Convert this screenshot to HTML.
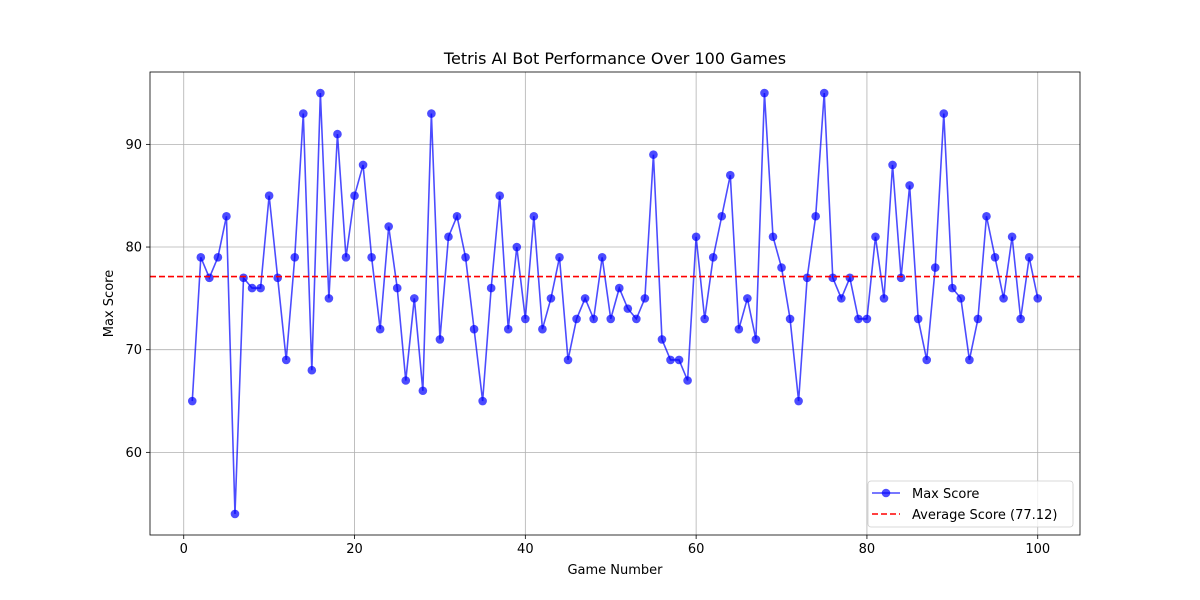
<!DOCTYPE html>
<html><head><meta charset="utf-8"><style>
html,body{margin:0;padding:0;background:#fff;}
svg{display:block;font-family:"DejaVu Sans","Liberation Sans",sans-serif;}
</style></head><body>
<svg id="c" width="1200" height="600" xmlns="http://www.w3.org/2000/svg"></svg>
<script>
const games = Array.from({length:100},(_,i)=>i+1);
const scores = [65,79,77,79,83,54,77,76,76,85,
77,69,79,93,68,95,75,91,79,85,
88,79,72,82,76,67,75,66,93,71,
81,83,79,72,65,76,85,72,80,73,
83,72,75,79,69,73,75,73,79,73,
76,74,73,75,89,71,69,69,67,81,
73,79,83,87,72,75,71,95,81,78,
73,65,77,83,95,77,75,77,73,73,
81,75,88,77,86,73,69,78,93,76,
75,69,73,83,79,75,81,73,79,75];
const xTicks = [0,20,40,60,80,100];
const yTicks = [60,70,80,90];
const avgLabel = "Average Score (77.12)";

const L=150,R=1080,T=72,B=535;
const avg = scores.reduce((a,b)=>a+b,0)/scores.length;
const ymin=Math.min(...scores), ymax=Math.max(...scores), yr=ymax-ymin;
const y0=ymin-0.05*yr, y1=ymax+0.05*yr;
const x0=1-0.05*99, x1=100+0.05*99;
const sx=v=>L+(v-x0)/(x1-x0)*(R-L);
const sy=v=>B-(v-y0)/(y1-y0)*(B-T);
const svg=document.getElementById('c');
const NS='http://www.w3.org/2000/svg';
function mk(tag,attrs,parent){const e=document.createElementNS(NS,tag);for(const k in attrs)e.setAttribute(k,attrs[k]);(parent||svg).appendChild(e);return e;}

// grid
xTicks.forEach(t=>{const g=mk('line',{x1:sx(t),x2:sx(t),y1:T,y2:B,stroke:'#b0b0b0','stroke-width':0.8});

});
yTicks.forEach(t=>{const g=mk('line',{x1:L,x2:R,y1:sy(t),y2:sy(t),stroke:'#b0b0b0','stroke-width':0.8});

});

// ticks and labels
xTicks.forEach(t=>{mk('line',{x1:sx(t),x2:sx(t),y1:B,y2:B+4,stroke:'#000','stroke-width':0.8});
const tx=mk('text',{x:sx(t),y:B+18,'text-anchor':'middle','font-size':13});tx.textContent=t;

});
yTicks.forEach(t=>{mk('line',{x1:L-4,x2:L,y1:sy(t),y2:sy(t),stroke:'#000','stroke-width':0.8});
const tx=mk('text',{x:L-8,y:sy(t)+4.5,'text-anchor':'end','font-size':13});tx.textContent=t;

});

// series line
const pts=games.map((g,i)=>sx(g)+','+sy(scores[i])).join(' ');
const pl=mk('polyline',{points:pts,fill:'none',stroke:'rgba(0,0,255,0.7)','stroke-width':1.6});


games.forEach((g,i)=>{const c=mk('circle',{cx:sx(g),cy:sy(scores[i]),r:4.3,fill:'rgba(0,0,255,0.7)'});

});

// average line
const al=mk('line',{x1:L,x2:R,y1:sy(avg),y2:sy(avg),stroke:'#ff0000','stroke-width':1.6,'stroke-dasharray':'6,3'});



// frame
const fr=mk('rect',{x:L,y:T,width:R-L,height:B-T,fill:'none',stroke:'#000','stroke-width':0.8});



// titles
const ti=mk('text',{x:(L+R)/2,y:64,'text-anchor':'middle','font-size':16});ti.textContent='Tetris AI Bot Performance Over 100 Games';


const xt=mk('text',{x:(L+R)/2,y:574,'text-anchor':'middle','font-size':13});xt.textContent='Game Number';


const yt=mk('text',{x:0,y:0,'text-anchor':'middle','font-size':13,transform:`translate(113,${(T+B)/2}) rotate(-90)`});yt.textContent='Max Score';



// legend
const lg=mk('g',{});


mk('rect',{x:868,y:481,width:205,height:46,rx:3,fill:'rgba(255,255,255,0.8)',stroke:'#ccc','stroke-width':0.8},lg);
mk('line',{x1:872,x2:900,y1:493,y2:493,stroke:'rgba(0,0,255,0.7)','stroke-width':1.6},lg);
mk('circle',{cx:886,cy:493,r:4.3,fill:'rgba(0,0,255,0.7)'},lg);
const t1=mk('text',{x:912,y:498,'font-size':13},lg);t1.textContent='Max Score';


mk('line',{x1:872,x2:900,y1:514,y2:514,stroke:'#ff0000','stroke-width':1.6,'stroke-dasharray':'6,3'},lg);
const t2=mk('text',{x:912,y:519,'font-size':13},lg);t2.textContent=avgLabel;


</script>
</body></html>
